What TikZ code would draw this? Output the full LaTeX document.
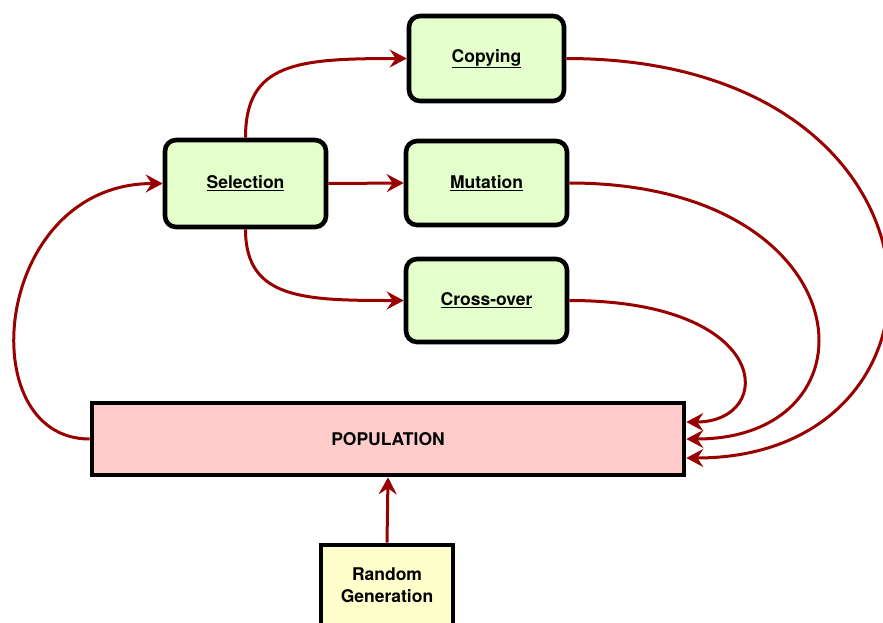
\documentclass[tikz,border=0pt]{standalone}
\usepackage{fontspec}
\setmainfont{TeX Gyre Heros}
\usetikzlibrary{arrows.meta}
\definecolor{flow}{HTML}{990000}
\definecolor{opfill}{HTML}{E5FFCC}
\definecolor{popfill}{HTML}{FFCCCC}
\definecolor{genfill}{HTML}{FFFFCC}
\tikzset{
  boxfont/.style={font=\bfseries\fontsize{17.5}{21}\selectfont},
  opbox/.style={draw=black, line width=4.6pt, rounded corners=11pt, fill=opfill,
    minimum width=161pt, minimum height=85pt, inner sep=0pt, boxfont},
  popbox/.style={draw=black, line width=4.6pt, fill=popfill,
    minimum width=592pt, minimum height=72pt, inner sep=0pt, boxfont},
  genbox/.style={draw=black, line width=4.6pt, fill=genfill,
    minimum width=132pt, minimum height=80pt, inner sep=0pt, align=center,
    font=\bfseries\fontsize{17.5}{21.5}\selectfont},
  link/.style={draw=flow, line width=3pt,
    -{Stealth[length=17pt,width=18pt,inset=6pt]}},
}
\begin{document}
\begin{tikzpicture}[x=1pt,y=-1pt]
  \useasboundingbox (0,0) rectangle (883,622);
  \begin{scope}
    \clip (0,0) rectangle (883,622);
    \node[opbox, minimum width=155pt] (copy) at (486.5,58.5) {\underline{Copying}};
    \node[opbox, minimum height=87pt] (sel) at (245.5,183.5) {\underline{Selection}};
    \node[opbox, minimum height=84pt] (mut) at (486.5,183) {\underline{Mutation}};
    \node[opbox, minimum height=83pt] (cross) at (486.5,300.5) {\underline{Cross-over}};
    \node[popbox] (pop) at (388,439) {POPULATION};
    \node[genbox] (gen) at (387,585) {Random\\Generation};

    \coordinate (inA) at ([yshift=17pt]pop.east);
    \coordinate (inB) at (pop.east);
    \coordinate (inC) at ([yshift=-19pt]pop.east);

    \draw[link] (sel.north) .. controls +(0,-75) and +(-110,0) .. (copy.west);
    \draw[link] (sel.east) -- (mut.west);
    \draw[link] (sel.south) .. controls +(0,70) and +(-100,0) .. (cross.west);
    \draw[link] (pop.west) .. controls +(-120,0) and +(-170,0) .. (sel.west);
    \draw[link] (cross.east) .. controls +(205,0) and +(90,0) .. (inA);
    \draw[link] (mut.east) .. controls +(295,0) and +(200,0) .. (inB);
    \draw[link] (copy.east) .. controls +(400,0) and +(290,0) .. (inC);
    \draw[link] (gen.north) -- (pop.south);
  \end{scope}
\end{tikzpicture}
\end{document}
